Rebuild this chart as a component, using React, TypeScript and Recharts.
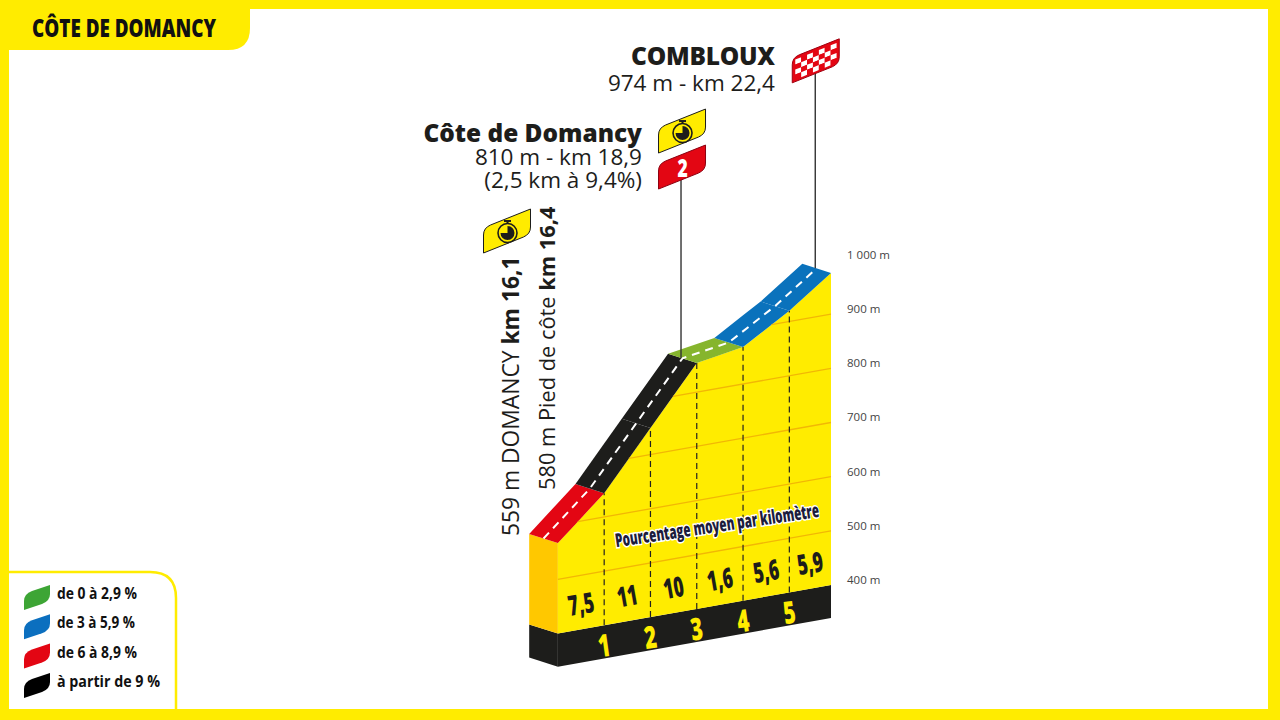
import { Area, ComposedChart, Line, ReferenceDot, ReferenceLine, XAxis, YAxis } from "recharts";

// km marks along the climb and the altitude at each of them
const kmMarks = [0, 1, 2, 3, 4, 5, 5.9];
const altitudes = [567, 644, 749, 854, 868, 920, 976];
const gradeLabels = ["7,5", "11", "10", "1,6", "5,6", "5,9"];
const gradeColors = ["#E30613", "#1D1D1B", "#1D1D1B", "#86B52D", "#0A72BC", "#0A72BC"];
const kmLabels = ["1", "2", "3", "4", "5"];
const altitudeTicks = [400, 500, 600, 700, 800, 900, 1000];
const altitudeTickLabels = ["400 m", "500 m", "600 m", "700 m", "800 m", "900 m", "1 000 m"];
const gridLevels = [500, 600, 700, 800, 900];
const legendLabels = ["de 0 à 2,9 %", "de 3 à 5,9 %", "de 6 à 8,9 %", "à partir de 9 %"];
const legendColors = ["#3DA535", "#0B6FBF", "#E30613", "#000000"];

const KM_END = kmMarks[kmMarks.length - 1];
const BASE_ALT = 400; // foot of the yellow wall
const PLINTH_ALT = 339; // foot of the black band
const PCT_ALT = 447;
const KM_LABEL_ALT = 363;
const RISE = 15.2; // fake perspective: the ground climbs this many metres per km towards the right
const BACK_KM = 0.62; // road depth
const BACK_ALT = 17;
const POLE_BACK_KM = 0.34;
const DOMAIN_X = [-558 / 46.3, KM_END];
const DOMAIN_Y = [150.8, 1479.9];
const CONDENSED = "'Open Sans', sans-serif";

const shear = (km: number, alt: number) => alt - (KM_END - km) * RISE;
const lerp = (a: number, b: number, t: number) => a + (b - a) * t;

const road = kmMarks.map((km, i) => ({ km, y: shear(km, altitudes[i]) }));

function ribbonRows(i: number) {
  const a = road[i];
  const b = road[i + 1];
  const t0 = BACK_KM / (b.km - a.km);
  const t1 = 1 - t0;
  return [
    { km: a.km - BACK_KM, range: [a.y + BACK_ALT, a.y + BACK_ALT] },
    { km: a.km, range: [a.y, lerp(a.y, b.y, t0) + BACK_ALT] },
    { km: b.km - BACK_KM, range: [lerp(a.y, b.y, t1), b.y + BACK_ALT] },
    { km: b.km, range: [b.y, b.y] },
  ];
}

const bodyRows = road.map((p) => ({ km: p.km, range: [shear(p.km, BASE_ALT), p.y] }));
const plinthRows = [0, KM_END].map((km) => ({ km, range: [shear(km, PLINTH_ALT), shear(km, BASE_ALT)] }));
const sideRows = [
  { km: -BACK_KM, range: [shear(0, BASE_ALT) + BACK_ALT, road[0].y + BACK_ALT] },
  { km: 0, range: [shear(0, BASE_ALT), road[0].y] },
];
const sidePlinthRows = [
  { km: -BACK_KM, range: [shear(0, PLINTH_ALT) + BACK_ALT, shear(0, BASE_ALT) + BACK_ALT] },
  { km: 0, range: [shear(0, PLINTH_ALT), shear(0, BASE_ALT)] },
];
const midRows = road.map((p) => ({ km: p.km - BACK_KM / 2, y: p.y + BACK_ALT / 2 }));

function gridRows(level: number) {
  let start = 0;
  for (let i = 0; i < altitudes.length - 1; i++) {
    if (level >= altitudes[i] && level <= altitudes[i + 1]) {
      start = lerp(kmMarks[i], kmMarks[i + 1], (level - altitudes[i]) / (altitudes[i + 1] - altitudes[i]));
    }
  }
  return [start, KM_END].map((km) => ({ km, y: shear(km, level) }));
}

const climbPole = { km: kmMarks[3] - POLE_BACK_KM, y: midRows[3].y };
const finishPole = { km: KM_END - POLE_BACK_KM, y: midRows[6].y };
const CLIMB_POLE_TOP = 1166;
const FINISH_POLE_TOP = 1351;

function flagPath(x: number, y: number, w = 47, h = 25, rise = 19) {
  const r = 7;
  return `M${x} ${y + rise + h}L${x} ${y + rise + r}Q${x} ${y + rise} ${x + r} ${y + rise - 3}L${x + w} ${y}L${x + w} ${y + h - r}Q${x + w} ${y + h} ${x + w - r} ${y + h + 3}Z`;
}

function Stopwatch({ x, y }: { x: number; y: number }) {
  return (
    <g>
      <rect x={x - 3.5} y={y - 13} width={7} height={2} fill="#1D1D1B" />
      <rect x={x - 1} y={y - 12} width={2} height={3} fill="#1D1D1B" />
      <circle cx={x} cy={y} r={9.5} fill="#FFEC00" stroke="#1D1D1B" strokeWidth={1.6} />
      <path d={`M${x} ${y - 7}A7 7 0 1 1 ${x - 7} ${y}L${x} ${y}Z`} fill="#1D1D1B" />
    </g>
  );
}

function TimeFlag({ x, y }: { x: number; y: number }) {
  return (
    <g>
      <path d={flagPath(x, y)} fill="#FFEC00" stroke="#1D1D1B" strokeWidth={1} />
      <Stopwatch x={x + 24} y={y + 24} />
    </g>
  );
}

function ClimbFlags(props: any) {
  const x = props.cx - 22.5;
  return (
    <g>
      <TimeFlag x={x} y={props.cy - 61} />
      <path d={flagPath(x, props.cy - 25)} fill="#E30613" stroke="#8C0010" strokeWidth={1} />
      <text
        transform={`translate(${x + 24} ${props.cy + 7}) scale(0.7 1)`}
        textAnchor="middle"
        fontFamily={CONDENSED}
        fontWeight={800}
        fontSize={25}
        fill="#fff"
      >
        2
      </text>
    </g>
  );
}

function FinishFlag(props: any) {
  const x = props.cx - 23;
  const y = props.cy - 31;
  const cells = [];
  for (let c = 0; c < 7; c++) {
    for (let r = 0; r < 4; r++) {
      cells.push(
        <rect key={`${c}-${r}`} x={3 + c * 5.9} y={3 + r * 5} width={5.9} height={5} fill={(c + r) % 2 ? "#E30613" : "#fff"} />
      );
    }
  }
  return (
    <g>
      <path d={flagPath(x, y)} fill="#E30613" stroke="#A00010" strokeWidth={1} />
      <g transform={`translate(${x} ${y + 19}) skewY(-22)`}>{cells}</g>
    </g>
  );
}

function PctLabel(props: any) {
  return (
    <text
      transform={`translate(${props.cx} ${props.cy}) rotate(-10) scale(0.62 1)`}
      textAnchor="middle"
      dy={10}
      fontFamily={CONDENSED}
      fontWeight={800}
      fontSize={28}
      fill="#1D1D1B"
    >
      {props.text}
    </text>
  );
}

function KmLabel(props: any) {
  return (
    <text
      transform={`translate(${props.cx} ${props.cy}) rotate(-8) scale(0.66 1)`}
      textAnchor="middle"
      dy={11}
      fontFamily={CONDENSED}
      fontWeight={800}
      fontSize={31}
      fill="#FFEC00"
    >
      {props.text}
    </text>
  );
}

function AltTick(props: any) {
  const i = altitudeTicks.indexOf(props.payload.value);
  return (
    <text x={props.x + 8} y={props.y - 5} dy={4} fontFamily="'Open Sans', sans-serif" fontSize={11.5} fill="#444">
      {altitudeTickLabels[i]}
    </text>
  );
}

function Furniture() {
  const names = { fontFamily: "'Open Sans', sans-serif", fill: "#1D1D1B", textAnchor: "end" as const };
  return (
    <svg width={1280} height={720} style={{ position: "absolute", left: 0, top: 0 }}>
      <rect x={0} y={0} width={1280} height={9} fill="#FFEC00" />
      <rect x={0} y={0} width={9} height={720} fill="#FFEC00" />
      <rect x={1268} y={0} width={12} height={720} fill="#FFEC00" />
      <rect x={0} y={709} width={1280} height={11} fill="#FFEC00" />
      <path d="M0 0H250V28Q250 50 228 50H0Z" fill="#FFEC00" />
      <text x={32} y={37} fontFamily={CONDENSED} fontWeight={800} fontSize={24} textLength={184} lengthAdjust="spacingAndGlyphs" fill="#111">
        CÔTE DE DOMANCY
      </text>

      <path d="M9 572H150Q176 572 176 598V710" fill="none" stroke="#FFEC00" strokeWidth={2.5} />
      {legendLabels.map((label, i) => {
        const y = 585 + i * 29.3;
        return (
          <g key={label}>
            <path d={`M24 ${y + 25}L24 ${y + 16}Q24 ${y + 9} 32 ${y + 6}L50 ${y}L50 ${y + 9}Q50 ${y + 16} 42 ${y + 19}Z`} fill={legendColors[i]} />
            <text x={57} y={y + 14} fontFamily={CONDENSED} fontWeight={700} fontSize={16} textLength={i === 3 ? 103 : i === 1 ? 78 : 80} lengthAdjust="spacingAndGlyphs" fill="#111">
              {label}
            </text>
          </g>
        );
      })}

      <text x={775} y={65} {...names} fontWeight={800} fontSize={24.5} textLength={144} lengthAdjust="spacing">COMBLOUX</text>
      <text x={775} y={91} {...names} fontSize={22.5}>974 m - km 22,4</text>
      <text x={642} y={142} {...names} fontWeight={800} fontSize={24.4}>Côte de Domancy</text>
      <text x={642} y={165} {...names} fontSize={22.5}>810 m - km 18,9</text>
      <text x={642} y={188} {...names} fontSize={22.5}>(2,5 km à 9,4%)</text>

      <text transform="translate(519 536) rotate(-90)" fontFamily="'Open Sans', sans-serif" fontSize={22.8} fill="#1D1D1B">
        559 m DOMANCY <tspan fontWeight={700}>km 16,1</tspan>
      </text>
      <text transform="translate(555 490) rotate(-90)" fontFamily="'Open Sans', sans-serif" fontSize={21.8} fill="#1D1D1B">
        580 m Pied de côte <tspan fontWeight={700}>km 16,4</tspan>
      </text>
      <TimeFlag x={483.5} y={209} />

      <text
        transform="translate(718 532) rotate(-8.5)"
        textAnchor="middle"
        fontFamily={CONDENSED}
        fontWeight={800}
        fontSize={19}
        textLength={206}
        lengthAdjust="spacingAndGlyphs"
        fill="#1C1C3C"
        stroke="#fff"
        strokeWidth={3}
        paintOrder="stroke"
      >
        Pourcentage moyen par kilomètre
      </text>
    </svg>
  );
}

export default function App() {
  return (
    <div style={{ position: "absolute", left: 0, top: 0, width: 1280, height: 720, overflow: "hidden", background: "#fff" }}>
      <ComposedChart width={1280} height={720} margin={{ top: 0, right: 0, bottom: 0, left: 0 }}>
        <XAxis type="number" dataKey="km" domain={DOMAIN_X} allowDataOverflow hide />
        <YAxis
          orientation="right"
          width={449}
          domain={DOMAIN_Y}
          allowDataOverflow
          ticks={altitudeTicks}
          interval={0}
          axisLine={false}
          tickLine={false}
          tick={AltTick}
        />
        <Area data={plinthRows} dataKey="range" type="linear" stroke="none" fill="#1D1D1B" fillOpacity={1} isAnimationActive={false} />
        <Area data={sidePlinthRows} dataKey="range" type="linear" stroke="none" fill="#1D1D1B" fillOpacity={1} isAnimationActive={false} />
        <Area data={sideRows} dataKey="range" type="linear" stroke="none" fill="#FFC800" fillOpacity={1} isAnimationActive={false} />
        <Area data={bodyRows} dataKey="range" type="linear" stroke="none" fill="#FFEC00" fillOpacity={1} isAnimationActive={false} />
        {gridLevels.map((level) => (
          <Line key={level} data={gridRows(level)} dataKey="y" type="linear" stroke="#F2B705" strokeWidth={1.3} dot={false} activeDot={false} isAnimationActive={false} />
        ))}
        {gradeColors.map((color, i) => (
          <Area key={i} data={ribbonRows(i)} dataKey="range" type="linear" stroke="none" fill={color} fillOpacity={1} isAnimationActive={false} />
        ))}
        <Line data={midRows} dataKey="y" type="linear" stroke="#fff" strokeWidth={2} strokeDasharray="8 6" dot={false} activeDot={false} isAnimationActive={false} />
        {kmMarks.slice(1, 6).map((km, i) => (
          <ReferenceLine
            key={km}
            segment={[
              { x: km, y: shear(km, BASE_ALT) },
              { x: km, y: road[i + 1].y },
            ]}
            stroke="#222"
            strokeWidth={1.2}
            strokeDasharray="6 4"
          />
        ))}
        <ReferenceLine segment={[{ x: climbPole.km, y: climbPole.y }, { x: climbPole.km, y: CLIMB_POLE_TOP }]} stroke="#333" strokeWidth={1.4} />
        <ReferenceLine segment={[{ x: finishPole.km, y: finishPole.y }, { x: finishPole.km, y: FINISH_POLE_TOP }]} stroke="#333" strokeWidth={1.4} />
        <ReferenceDot x={climbPole.km} y={CLIMB_POLE_TOP} shape={ClimbFlags} />
        <ReferenceDot x={finishPole.km} y={FINISH_POLE_TOP} shape={FinishFlag} />
        {gradeLabels.map((text, i) => {
          const km = (kmMarks[i] + kmMarks[i + 1]) / 2;
          return <ReferenceDot key={text} x={km} y={shear(km, PCT_ALT)} shape={(p: any) => <PctLabel {...p} text={text} />} />;
        })}
        {kmLabels.map((text, i) => (
          <ReferenceDot key={text} x={kmMarks[i + 1]} y={shear(kmMarks[i + 1], KM_LABEL_ALT)} shape={(p: any) => <KmLabel {...p} text={text} />} />
        ))}
      </ComposedChart>
      <Furniture />
    </div>
  );
}
